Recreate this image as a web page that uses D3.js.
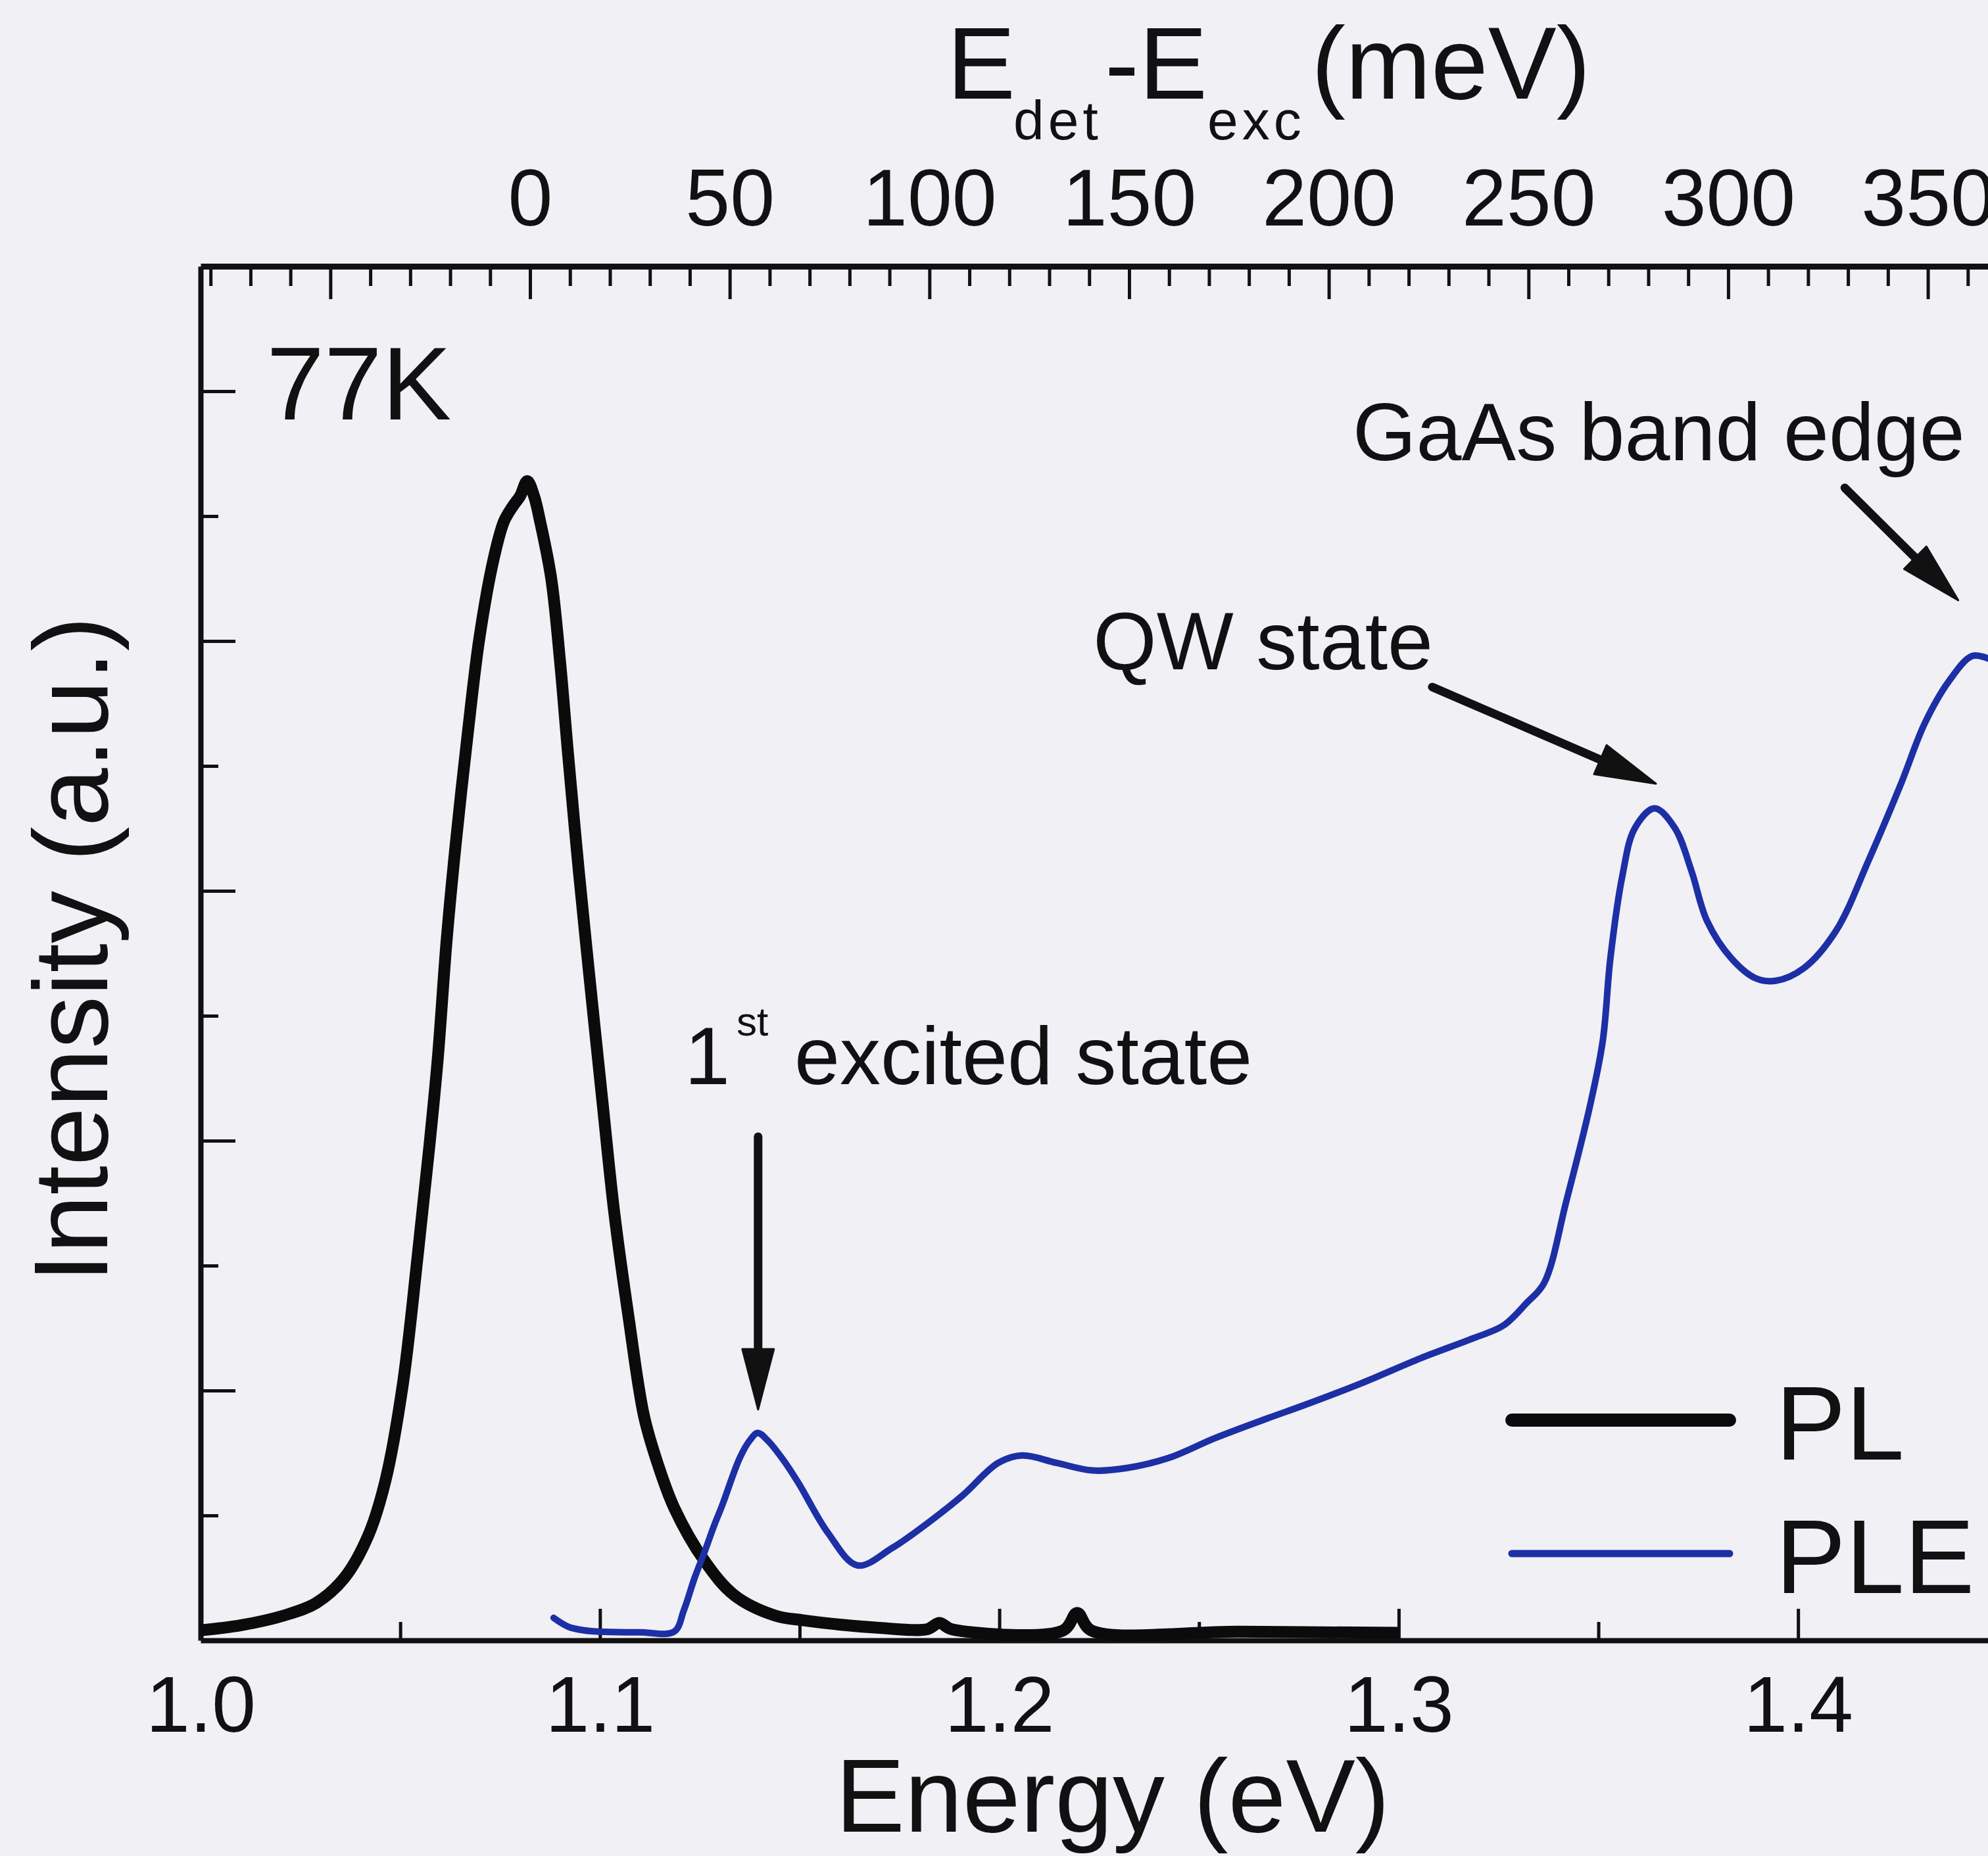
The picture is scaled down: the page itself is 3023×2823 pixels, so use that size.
<!DOCTYPE html>
<html>
<head>
<meta charset="utf-8">
<script src="https://cdn.jsdelivr.net/npm/d3@7"></script>
<style>
  html, body { margin: 0; padding: 0; background: #f0f0f5; }
  svg { display: block; }
  text { font-family: "Liberation Sans", Arial, Helvetica, sans-serif; fill: #111; }
</style>
</head>
<body>
<svg id="chart" width="3023" height="2823"></svg>
<script>
// ---- Data -------------------------------------------------------------
// PL spectrum at 77K: photon energy (eV) and intensity (a.u.)
const plEnergy = [1.000, 1.010, 1.021, 1.029, 1.036, 1.042, 1.0463, 1.0506, 1.0543, 1.0573,
  1.0594, 1.0616, 1.0639, 1.0669, 1.0698, 1.0734, 1.0760, 1.0782, 1.0800, 1.0818,
  1.0835, 1.0850, 1.0878, 1.0900, 1.0920, 1.0947, 1.0976, 1.1006, 1.1036, 1.1072,
  1.1110, 1.1144, 1.1186, 1.1261, 1.1337, 1.1437, 1.1510, 1.1700, 1.1820, 1.1850,
  1.1880, 1.2160, 1.2195, 1.2230, 1.2600, 1.3000];
const plIntensity = [0.04, 0.06, 0.10, 0.15, 0.25, 0.42, 0.64, 1.02, 1.53, 1.98,
  2.33, 2.80, 3.19, 3.63, 4.01, 4.33, 4.48, 4.54, 4.58, 4.64,
  4.58, 4.48, 4.25, 3.92, 3.55, 3.08, 2.62, 2.16, 1.71, 1.29,
  0.90, 0.71, 0.53, 0.32, 0.18, 0.10, 0.08, 0.05, 0.045, 0.07,
  0.045, 0.04, 0.11, 0.04, 0.035, 0.03];

// PLE spectrum: excitation energy (eV) and detected intensity (a.u.)
const pleEnergy = [1.0884, 1.0920, 1.0960, 1.1009, 1.1100, 1.1186, 1.1210, 1.1237, 1.1261, 1.1286,
  1.1306, 1.1350, 1.1375, 1.1395, 1.1420, 1.1460, 1.1497, 1.1571, 1.1645, 1.1732,
  1.1821, 1.1908, 1.1997, 1.2057, 1.2144, 1.2233, 1.2320, 1.2424, 1.2541, 1.2674,
  1.2761, 1.2908, 1.3056, 1.3188, 1.3262, 1.3320, 1.3364, 1.3420, 1.3479, 1.3511,
  1.3530, 1.3560, 1.3591, 1.3641, 1.3692, 1.3733, 1.3772, 1.3833, 1.3894, 1.3944,
  1.4014, 1.4095, 1.4176, 1.4258, 1.4317, 1.4378, 1.4436, 1.4476];
const pleIntensity = [0.09, 0.055, 0.04, 0.034, 0.032, 0.035, 0.12, 0.25, 0.35, 0.46,
  0.54, 0.73, 0.80, 0.83, 0.80, 0.72, 0.63, 0.43, 0.30, 0.37,
  0.47, 0.58, 0.71, 0.74, 0.71, 0.68, 0.69, 0.73, 0.81, 0.89,
  0.94, 1.03, 1.13, 1.21, 1.26, 1.35, 1.43, 1.76, 2.14, 2.40,
  2.73, 3.06, 3.25, 3.33, 3.25, 3.08, 2.88, 2.73, 2.65, 2.64,
  2.69, 2.84, 3.12, 3.43, 3.67, 3.84, 3.94, 3.93];

// Detection energy (PL maximum) used for the top axis, in eV
const detectionEnergy = 1.0825;

// Tick values
const energyMajorTicks = [1.0, 1.1, 1.2, 1.3, 1.4];
const energyMinorTicks = [1.05, 1.15, 1.25, 1.35, 1.45];
const shiftMajorTicks = [-50, 0, 50, 100, 150, 200, 250, 300, 350];
const shiftMinorTicks = d3.range(-80, 370, 10).filter(d => d % 50 !== 0);
const intensityMajorTicks = [1, 2, 3, 4, 5];
const intensityMinorTicks = [0.5, 1.5, 2.5, 3.5, 4.5];

// Legend entries
const seriesNames = ["PL", "PLE"];

// Annotations (data coordinates: energy in eV, intensity in a.u.)
const labels = [
  { text: "77K", e: 1.0165, v: 4.887, size: 158 },
  { text: "GaAs band edge", e: 1.2885, v: 4.724, size: 124 },
  { text: "QW state", e: 1.2235, v: 3.887, size: 124 },
  { text: "1", e: 1.1212, v: 2.226, size: 124 },
  { text: "st", e: 1.1342, v: 2.421, size: 62 },
  { text: "excited state", e: 1.1487, v: 2.226, size: 124 }
];
const arrows = [
  { from: [1.1396, 2.016], to: [1.1396, 0.924] },
  { from: [1.3084, 3.816], to: [1.3644, 3.429] },
  { from: [1.4117, 4.613], to: [1.4401, 4.163] }
];

// ---- Layout -----------------------------------------------------------
const plotLeft = 305, plotTop = 405, plotBottom = 2495;
const pxPerEV = 6073;
const xDomain = [1.0, 1.45];

const FONT = '"Liberation Sans", Arial, Helvetica, sans-serif';
const INK = "#111";
const PL_COLOR = "#0b0b0b";
const PLE_COLOR = "#1c2fa5";

const svg = d3.select("#chart");

const x = d3.scaleLinear()
  .domain(xDomain)
  .range([plotLeft, plotLeft + (xDomain[1] - xDomain[0]) * pxPerEV]);

const xTop = d3.scaleLinear()
  .domain(xDomain.map(e => (e - detectionEnergy) * 1000))
  .range(x.range());

const y = d3.scaleLinear()
  .domain([0, 5.5])
  .range([plotBottom, plotTop]);

function styleAxis(g, tickWidth, domainWidth, fontSize) {
  g.attr("font-family", FONT).attr("color", INK);
  if (fontSize) g.attr("font-size", fontSize);
  g.selectAll(".tick line").attr("stroke-width", tickWidth);
  g.select(".domain").attr("stroke-width", domainWidth);
}

// Bottom axis: energy (eV)
svg.append("g")
  .attr("transform", `translate(0,${plotBottom})`)
  .call(d3.axisBottom(x).tickValues(energyMinorTicks).tickSize(-28).tickSizeOuter(0).tickFormat(""))
  .call(g => { styleAxis(g, 5, 0); g.select(".domain").remove(); });
svg.append("g")
  .attr("transform", `translate(0,${plotBottom})`)
  .call(d3.axisBottom(x).tickValues(energyMajorTicks).tickSize(-48).tickSizeOuter(0)
    .tickPadding(54).tickFormat(d3.format(".1f")))
  .call(g => styleAxis(g, 5, 8, 120));

// Top axis: E_det - E_exc (meV)
svg.append("g")
  .attr("transform", `translate(0,${plotTop})`)
  .call(d3.axisTop(xTop).tickValues(shiftMinorTicks).tickSize(-30).tickSizeOuter(0).tickFormat(""))
  .call(g => { styleAxis(g, 5, 0); g.select(".domain").remove(); });
svg.append("g")
  .attr("transform", `translate(0,${plotTop})`)
  .call(d3.axisTop(xTop).tickValues(shiftMajorTicks).tickSize(-50).tickSizeOuter(0)
    .tickPadding(62).tickFormat(d => d < 0 ? "" : d))
  .call(g => styleAxis(g, 5, 9, 122));

// Left axis: intensity (no tick labels)
svg.append("g")
  .attr("transform", `translate(${plotLeft},0)`)
  .call(d3.axisLeft(y).tickValues(intensityMinorTicks).tickSize(-27).tickSizeOuter(0).tickFormat(""))
  .call(g => { styleAxis(g, 5, 0); g.select(".domain").remove(); });
svg.append("g")
  .attr("transform", `translate(${plotLeft},0)`)
  .call(d3.axisLeft(y).tickValues(intensityMajorTicks).tickSize(-53).tickSizeOuter(0).tickFormat(""))
  .call(g => styleAxis(g, 5, 8));

// Axis titles
const topTitle = svg.append("text").attr("font-size", 156).attr("y", 150);
topTitle.append("tspan").attr("x", 1440).text("E");
topTitle.append("tspan").attr("x", 1541).attr("y", 212).attr("font-size", 84).attr("letter-spacing", 6).text("det");
topTitle.append("tspan").attr("x", 1680).attr("y", 150).text("-E");
topTitle.append("tspan").attr("x", 1836).attr("y", 212).attr("font-size", 84).attr("letter-spacing", 6).text("exc");
topTitle.append("tspan").attr("x", 1994).attr("y", 150).text("(meV)");

svg.append("text")
  .attr("x", 1692).attr("y", 2786)
  .attr("font-size", 158)
  .attr("text-anchor", "middle")
  .text("Energy (eV)");

svg.append("text")
  .attr("transform", "translate(163,1444) rotate(-90)")
  .attr("font-size", 160)
  .attr("text-anchor", "middle")
  .text("Intensity (a.u.)");

// ---- Spectra ----------------------------------------------------------
const line = d3.line()
  .x(d => x(d[0]))
  .y(d => y(d[1]))
  .curve(d3.curveCatmullRom.alpha(0.5));

const plData = d3.zip(plEnergy, plIntensity);
const pleData = d3.zip(pleEnergy, pleIntensity);

svg.append("path")
  .datum(plData)
  .attr("d", line)
  .attr("fill", "none")
  .attr("stroke", PL_COLOR)
  .attr("stroke-width", 18)
  .attr("stroke-linejoin", "round")
  .attr("stroke-linecap", "butt");

svg.append("path")
  .datum(pleData)
  .attr("d", line)
  .attr("fill", "none")
  .attr("stroke", PLE_COLOR)
  .attr("stroke-width", 10)
  .attr("stroke-linejoin", "round")
  .attr("stroke-linecap", "round");

// ---- Annotations ------------------------------------------------------
svg.append("g").selectAll("text")
  .data(labels)
  .join("text")
  .attr("x", d => x(d.e))
  .attr("y", d => y(d.v))
  .attr("font-size", d => d.size)
  .text(d => d.text);

const headLen = 92, headHalf = 24;
const arrowG = svg.append("g");
arrows.forEach(a => {
  const x0 = x(a.from[0]), y0 = y(a.from[1]);
  const x1 = x(a.to[0]), y1 = y(a.to[1]);
  const len = Math.hypot(x1 - x0, y1 - y0);
  const ux = (x1 - x0) / len, uy = (y1 - y0) / len;
  const bx = x1 - ux * headLen, by = y1 - uy * headLen;
  arrowG.append("line")
    .attr("x1", x0).attr("y1", y0)
    .attr("x2", bx + ux * 10).attr("y2", by + uy * 10)
    .attr("stroke", INK).attr("stroke-width", 13).attr("stroke-linecap", "round");
  arrowG.append("path")
    .attr("d", `M${x1},${y1}L${bx - uy * headHalf},${by + ux * headHalf}L${bx + uy * headHalf},${by - ux * headHalf}Z`)
    .attr("fill", INK)
    .attr("stroke", INK).attr("stroke-width", 3).attr("stroke-linejoin", "round");
});

// ---- Legend -----------------------------------------------------------
const legendColors = [PL_COLOR, PLE_COLOR];
const legendWidths = [20, 11];
const legendRows = [2160, 2363];
const legend = svg.append("g");
seriesNames.forEach((name, i) => {
  legend.append("line")
    .attr("x1", 2299).attr("x2", 2630)
    .attr("y1", legendRows[i]).attr("y2", legendRows[i])
    .attr("stroke", legendColors[i])
    .attr("stroke-width", legendWidths[i])
    .attr("stroke-linecap", "round");
  legend.append("text")
    .attr("x", 2700)
    .attr("y", legendRows[i] + 60)
    .attr("font-size", 160)
    .text(name);
});
</script>
</body>
</html>
